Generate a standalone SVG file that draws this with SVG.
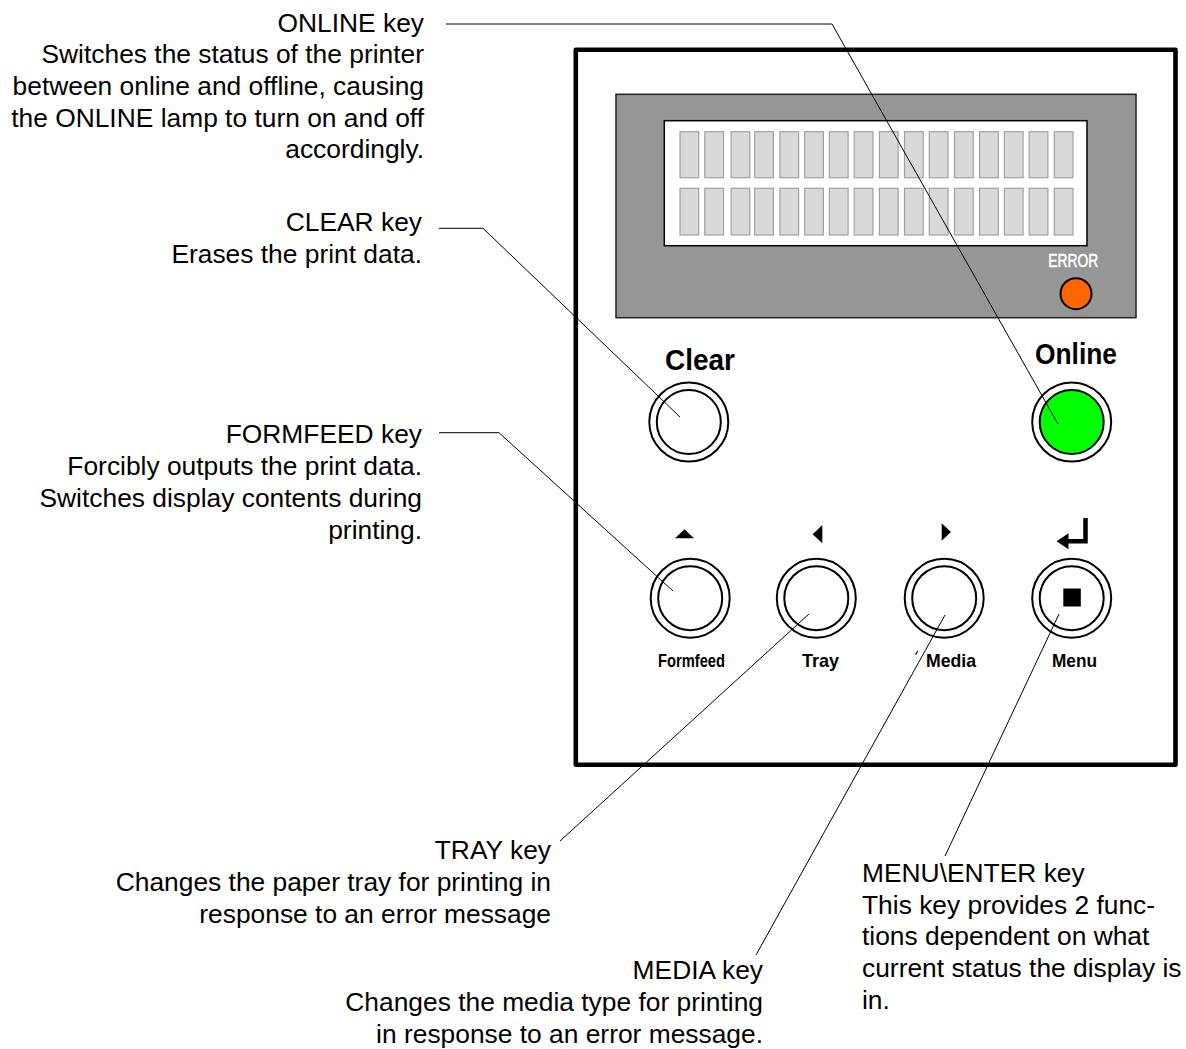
<svg xmlns="http://www.w3.org/2000/svg" width="1186" height="1049" viewBox="0 0 1186 1049">
<style>
.lbl{font-family:"Liberation Sans",Arial,sans-serif;font-size:25px;fill:#000}
.key{font-family:"Liberation Sans",Arial,sans-serif;font-weight:bold;fill:#000}
.ring{fill:#fff;stroke:#000;stroke-width:2}
.cell{fill:#d9d9d9;stroke:#a0a0a0;stroke-width:1.2}
.lead{fill:none;stroke:#000;stroke-width:1}
</style>
<rect width="1186" height="1049" fill="#fff"/>

<g id="panel">
<rect x="575.8" y="49.8" width="599.7" height="715" fill="#fff" stroke="#000" stroke-width="4.6" stroke-linejoin="round"/>
</g>

<g id="lcd">
<rect x="616" y="94.3" width="520" height="223.4" fill="#969696" stroke="#222" stroke-width="1.5"/>
<rect x="664.3" y="120.7" width="422.7" height="125" fill="#fff" stroke="#000" stroke-width="1.5"/>
<g id="cells-row1">
<rect class="cell" x="680" y="131.7" width="18.7" height="46"/>
<rect class="cell" x="704.8" y="131.7" width="18.7" height="46"/>
<rect class="cell" x="731.1" y="131.7" width="18.7" height="46"/>
<rect class="cell" x="754.7" y="131.7" width="18.7" height="46"/>
<rect class="cell" x="779.9" y="131.7" width="18.7" height="46"/>
<rect class="cell" x="804.7" y="131.7" width="18.7" height="46"/>
<rect class="cell" x="829.4" y="131.7" width="18.7" height="46"/>
<rect class="cell" x="854.2" y="131.7" width="18.7" height="46"/>
<rect class="cell" x="879.4" y="131.7" width="18.7" height="46"/>
<rect class="cell" x="904.5" y="131.7" width="18.7" height="46"/>
<rect class="cell" x="929.3" y="131.7" width="18.7" height="46"/>
<rect class="cell" x="954.5" y="131.7" width="18.7" height="46"/>
<rect class="cell" x="979.6" y="131.7" width="18.7" height="46"/>
<rect class="cell" x="1004.4" y="131.7" width="18.7" height="46"/>
<rect class="cell" x="1029.2" y="131.7" width="18.7" height="46"/>
<rect class="cell" x="1054.3" y="131.7" width="18.7" height="46"/>
</g>
<g id="cells-row2">
<rect class="cell" x="680" y="188.3" width="18.7" height="46.7"/>
<rect class="cell" x="704.8" y="188.3" width="18.7" height="46.7"/>
<rect class="cell" x="731.1" y="188.3" width="18.7" height="46.7"/>
<rect class="cell" x="754.7" y="188.3" width="18.7" height="46.7"/>
<rect class="cell" x="779.9" y="188.3" width="18.7" height="46.7"/>
<rect class="cell" x="804.7" y="188.3" width="18.7" height="46.7"/>
<rect class="cell" x="829.4" y="188.3" width="18.7" height="46.7"/>
<rect class="cell" x="854.2" y="188.3" width="18.7" height="46.7"/>
<rect class="cell" x="879.4" y="188.3" width="18.7" height="46.7"/>
<rect class="cell" x="904.5" y="188.3" width="18.7" height="46.7"/>
<rect class="cell" x="929.3" y="188.3" width="18.7" height="46.7"/>
<rect class="cell" x="954.5" y="188.3" width="18.7" height="46.7"/>
<rect class="cell" x="979.6" y="188.3" width="18.7" height="46.7"/>
<rect class="cell" x="1004.4" y="188.3" width="18.7" height="46.7"/>
<rect class="cell" x="1029.2" y="188.3" width="18.7" height="46.7"/>
<rect class="cell" x="1054.3" y="188.3" width="18.7" height="46.7"/>
</g>
</g>

<g id="error-lamp">
<text x="1073.3" y="266.5" text-anchor="middle" font-family="'Liberation Sans',Arial,sans-serif" font-size="18" fill="#fff" stroke="#fff" stroke-width="0.5" textLength="50" lengthAdjust="spacingAndGlyphs">ERROR</text>
<circle cx="1076" cy="293.7" r="15.5" fill="#ff6600" stroke="#000" stroke-width="2"/>
</g>

<g id="clear-button">
<text class="key" x="700" y="370" text-anchor="middle" font-size="29" textLength="70" lengthAdjust="spacingAndGlyphs">Clear</text>
<circle class="ring" cx="688.8" cy="422" r="39.5"/>
<circle class="ring" cx="688.8" cy="422" r="32"/>
</g>

<g id="online-button">
<text class="key" x="1076" y="364" text-anchor="middle" font-size="29" textLength="82" lengthAdjust="spacingAndGlyphs">Online</text>
<circle class="ring" cx="1071.7" cy="422" r="39.5"/>
<circle cx="1071.7" cy="422" r="32" fill="#00ff00" stroke="#000" stroke-width="2"/>
</g>

<g id="formfeed-button">
<polygon points="675,538.3 694,538.3 684.5,529.3" fill="#000"/>
<circle class="ring" cx="690.2" cy="598.2" r="39.5"/>
<circle class="ring" cx="690.2" cy="598.2" r="32"/>
<text class="key" x="691.5" y="667" text-anchor="middle" font-size="19" textLength="67" lengthAdjust="spacingAndGlyphs">Formfeed</text>
</g>

<g id="tray-button">
<polygon points="812.7,534.2 822.3,525 822.3,543.3" fill="#000"/>
<circle class="ring" cx="816.3" cy="598.2" r="39.5"/>
<circle class="ring" cx="816.3" cy="598.2" r="32"/>
<text class="key" x="820.5" y="667" text-anchor="middle" font-size="19" textLength="37" lengthAdjust="spacingAndGlyphs">Tray</text>
</g>

<g id="media-button">
<polygon points="941.7,523.3 941.7,540.7 951,532" fill="#000"/>
<circle class="ring" cx="944.2" cy="598.2" r="39.5"/>
<circle class="ring" cx="944.2" cy="598.2" r="32"/>
<line x1="915.6" y1="654.6" x2="917.6" y2="651.2" stroke="#000" stroke-width="1.2"/>
<text class="key" x="951" y="666.5" text-anchor="middle" font-size="19" textLength="50" lengthAdjust="spacingAndGlyphs">Media</text>
</g>

<g id="menu-button">
<path d="M1085.5 518 V541.3 H1066" fill="none" stroke="#000" stroke-width="4.5"/>
<polygon points="1056.5,541.3 1068.5,533.3 1068.5,549.3" fill="#000"/>
<circle class="ring" cx="1071.7" cy="598.2" r="39.5"/>
<circle class="ring" cx="1071.7" cy="598.2" r="32"/>
<rect x="1063.3" y="588.5" width="17.5" height="18" fill="#000"/>
<text class="key" x="1074.5" y="667" text-anchor="middle" font-size="19" textLength="45" lengthAdjust="spacingAndGlyphs">Menu</text>
</g>

<g id="connectors">
<polyline class="lead" points="446,24 832,24 1058,424"/>
<polyline class="lead" points="439,228.3 483,228.3 680,417"/>
<polyline class="lead" points="439,432.7 499,432.7 673,591"/>
<line class="lead" x1="560" y1="841" x2="809" y2="614"/>
<line class="lead" x1="756" y1="955" x2="945" y2="615"/>
<line class="lead" x1="945" y1="856" x2="1059" y2="614"/>
</g>

<g id="label-online" transform="translate(424,0) scale(1.055,1)">
<text class="lbl" x="0" y="31.7" text-anchor="end">ONLINE key</text>
<text class="lbl" x="0" y="63.4" text-anchor="end">Switches the status of the printer</text>
<text class="lbl" x="0" y="95.1" text-anchor="end">between online and offline, causing</text>
<text class="lbl" x="0" y="126.8" text-anchor="end">the ONLINE lamp to turn on and off</text>
<text class="lbl" x="0" y="158.5" text-anchor="end">accordingly.</text>
</g>

<g id="label-clear" transform="translate(422,0) scale(1.055,1)">
<text class="lbl" x="0" y="231.5" text-anchor="end">CLEAR key</text>
<text class="lbl" x="0" y="263.2" text-anchor="end">Erases the print data.</text>
</g>

<g id="label-formfeed" transform="translate(422,0) scale(1.055,1)">
<text class="lbl" x="0" y="443.5" text-anchor="end">FORMFEED key</text>
<text class="lbl" x="0" y="475.2" text-anchor="end">Forcibly outputs the print data.</text>
<text class="lbl" x="0" y="506.9" text-anchor="end">Switches display contents during</text>
<text class="lbl" x="0" y="538.6" text-anchor="end">printing.</text>
</g>

<g id="label-tray" transform="translate(551,0) scale(1.055,1)">
<text class="lbl" x="0" y="859.5" text-anchor="end">TRAY key</text>
<text class="lbl" x="0" y="891.2" text-anchor="end">Changes the paper tray for printing in</text>
<text class="lbl" x="0" y="922.9" text-anchor="end">response to an error message</text>
</g>

<g id="label-media" transform="translate(763,0) scale(1.055,1)">
<text class="lbl" x="0" y="979.5" text-anchor="end">MEDIA key</text>
<text class="lbl" x="0" y="1011.2" text-anchor="end">Changes the media type for printing</text>
<text class="lbl" x="0" y="1042.9" text-anchor="end">in response to an error message.</text>
</g>

<g id="label-menu" transform="translate(862,0) scale(1.055,1)">
<text class="lbl" x="0" y="882">MENU\ENTER key</text>
<text class="lbl" x="0" y="913.7">This key provides 2 func-</text>
<text class="lbl" x="0" y="945.4">tions dependent on what</text>
<text class="lbl" x="0" y="977.1">current status the display is</text>
<text class="lbl" x="0" y="1008.8">in.</text>
</g>
</svg>
